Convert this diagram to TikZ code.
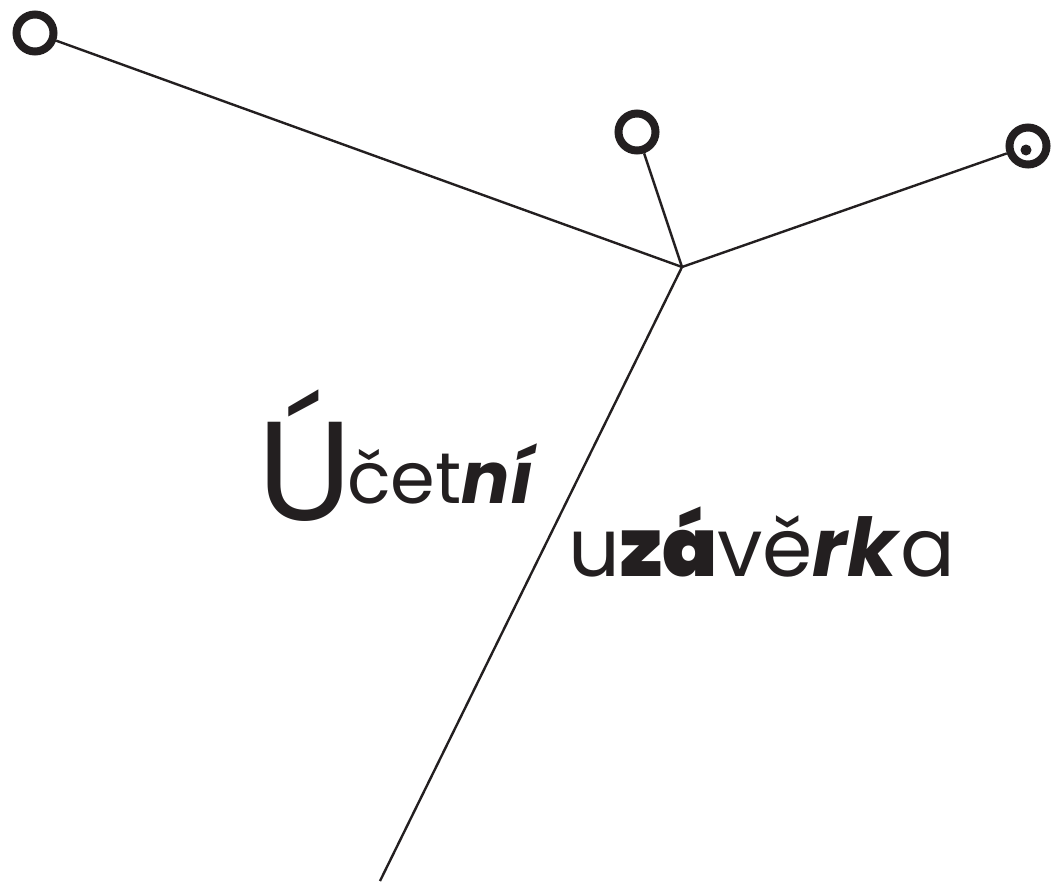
\documentclass[tikz,border=0pt]{standalone}
\usepackage{fontspec}
\setmainfont{Poppins}
\newfontfamily\heavyfont{Poppins Black}
\usepackage{tikz}
\definecolor{ink}{HTML}{231F20}
\tikzset{
	ring/.style={circle,draw=ink,line width=8pt,minimum size=37pt,inner sep=0pt},
	wire/.style={draw=ink,line width=2.4pt},
	word/.style={anchor=base west,inner sep=0pt,text=ink}
}

\begin{document}
\begin{tikzpicture}[x=1pt,y=-1pt]
	\useasboundingbox (0,0) rectangle (1051,881);
	% Nodes start here
	\node (A) at (35,33) [ring] {};
	\node (B) at (637,132) [ring] {};
	\node (C) at (1028,146) [ring] {};
	\node (Cdot) at (1026,150) [circle,fill=ink,minimum size=11pt,inner sep=0pt] {};
	\coordinate (J) at (682,267);
	\coordinate (E) at (380,881);

	% Lines start here
	\draw[wire] (A) to (J);
	\draw[wire] (B) to (J);
	\draw[wire] (C) to (J);
	\draw[wire] (J) to (E);

	% Text starts here
	\node (U) at (257,520) [word,font=\fontsize{141}{141}\selectfont] {Ú};
	\node (cetni) at (347,503) [word,font=\fontsize{72}{72}\selectfont] {čet\textbf{\textit{ní}}};
	\node (uzaverka) at (568,576) [word,font=\fontsize{81}{81}\selectfont] {u{\heavyfont zá}vě\textbf{\textit{rk}}a};

\end{tikzpicture}
\end{document}
